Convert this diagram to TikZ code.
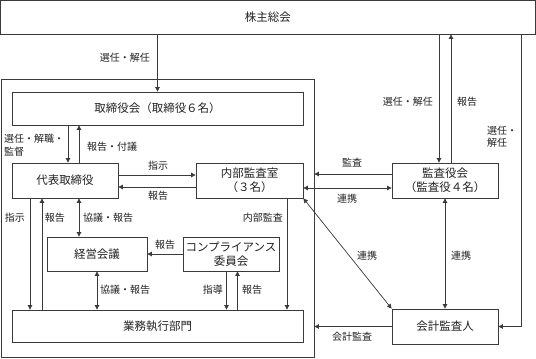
\documentclass[tikz,border=0pt]{standalone}
\usepackage{fontspec}
\setmainfont{Noto Sans CJK JP}
\usetikzlibrary{arrows.meta,calc}
\definecolor{lineC}{HTML}{3A3A3A}
\definecolor{textC}{HTML}{222222}
\begin{document}
\begin{tikzpicture}[x=1pt,y=-1pt,
  box/.style={draw=lineC, line width=0.8pt, fill=white, inner sep=0pt, align=center,
              text=textC, font=\fontsize{11.5}{14}\selectfont},
  conn/.style={draw=lineC, line width=0.7pt},
  arr/.style={conn, -{Triangle[length=4.5pt,width=4.5pt]}},
  darr/.style={conn, {Triangle[length=4.5pt,width=4.5pt]}-{Triangle[length=4.5pt,width=4.5pt]}},
  lbl/.style={font=\fontsize{10}{12.5}\selectfont, inner sep=1pt, text=textC, align=left}]
\useasboundingbox (0,0) rectangle (536,359);

% frame
\node[draw=lineC, line width=0.8pt, minimum width=312.5pt, minimum height=278.5pt, inner sep=0pt] (frame) at (157.75,218.25) {};

% boxes
\node[box, minimum width=534.5pt, minimum height=33.5pt] (top) at (267.75,17.25) {株主総会};
\node[box, minimum width=291pt, minimum height=33pt] (board) at (157.5,108.5) {取締役会（取締役６名）};
\node[box, minimum width=106pt, minimum height=35pt] (ceo) at (65,180.5) {代表取締役};
\node[box, minimum width=107pt, minimum height=35pt] (audit) at (249.5,180.5) {内部監査室\\（３名）};
\node[box, minimum width=100pt, minimum height=34pt] (mgmt) at (97,254) {経営会議};
\node[box, minimum width=96pt, minimum height=34pt] (comp) at (231,254) {コンプライアンス\\委員会};
\node[box, minimum width=291pt, minimum height=32pt] (ops) at (157.5,326) {業務執行部門};
\node[box, minimum width=106pt, minimum height=35pt] (kansa) at (445,180.5) {監査役会\\（監査役４名）};
\node[box, minimum width=106pt, minimum height=35pt] (auditor) at (445,326.5) {会計監査人};

% helper coordinates
\coordinate (k1) at ($(kansa.north)+(-6,0)$);
\coordinate (k2) at ($(kansa.north)+(6,0)$);
\coordinate (r1) at (521,0);
\coordinate (c1) at ($(ceo.north)+(3,0)$);
\coordinate (c2) at ($(ceo.north)+(14,0)$);
\coordinate (h1) at ($(ceo.east)+(0,-5.5)$);
\coordinate (h2) at ($(audit.west)+(0,6.5)$);
\coordinate (c3) at ($(ceo.south)+(-35,0)$);
\coordinate (c4) at ($(ceo.south)+(-23,0)$);
\coordinate (c5) at ($(ceo.south)+(14,0)$);
\coordinate (p1) at ($(comp.south)+(-4.5,0)$);
\coordinate (p2) at ($(comp.south)+(6.5,0)$);
\coordinate (a1) at ($(audit.south)+(37.5,0)$);
\coordinate (k3) at ($(kansa.west)+(0,-6.5)$);
\coordinate (a2) at ($(audit.east)+(0,7.5)$);

% connectors
\draw[arr] (top.south -| board.north) -- (board.north);
\draw[arr] (top.south -| k1) -- (k1);
\draw[arr] (k2) -- (top.south -| k2);
\draw[arr] (top.south -| r1) |- (auditor.east);
\draw[arr] (board.south -| c1) -- (c1);
\draw[arr] (c2) -- (board.south -| c2);
\draw[arr] (h1) -- (h1 -| audit.west);
\draw[arr] (h2) -- (h2 -| ceo.east);
\draw[arr] (c3) -- (c3 |- ops.north);
\draw[arr] (c4 |- ops.north) -- (c4);
\draw[darr] (c5) -- (c5 |- mgmt.north);
\draw[arr] (comp.west) -- (mgmt.east);
\draw[darr] (mgmt.south) -- (mgmt.south |- ops.north);
\draw[arr] (p1) -- (p1 |- ops.north);
\draw[arr] (p2 |- ops.north) -- (p2);
\draw[arr] (a1) -- (a1 |- ops.north);
\draw[arr] (k3) -- (k3 -| frame.east);
\draw[darr] (a2) -- (a2 -| kansa.west);
\draw[darr] (audit.south east) -- (auditor.north west);
\draw[darr] (kansa.south) -- (auditor.north);
\draw[arr] (auditor.west) -- (auditor.west -| frame.east);

% labels
\node[lbl, anchor=east] (l1) at (151,58) {選任・解任};
\node[lbl, anchor=east] (l2) at (434,102) {選任・解任};
\node[lbl, anchor=west] (l3) at (456,102) {報告};
\node[lbl, anchor=west] (l4) at (486,136.5) {選任・\\解任};
\node[lbl, anchor=west] (l5) at (3,145) {選任・解職・\\監督};
\node[lbl, anchor=west] (l6) at (86,147) {報告・付議};
\node[lbl] (l7) at (158,166) {指示};
\node[lbl] (l8) at (158,196) {報告};
\node[lbl] (l9) at (15,218) {指示};
\node[lbl] (l10) at (55,218) {報告};
\node[lbl, anchor=west] (l11) at (82,218) {協議・報告};
\node[lbl, anchor=east] (l12) at (284,218) {内部監査};
\node[lbl] (l13) at (165,245) {報告};
\node[lbl, anchor=west] (l14) at (99,290) {協議・報告};
\node[lbl, anchor=east] (l15) at (224,290) {指導};
\node[lbl, anchor=west] (l16) at (241,290) {報告};
\node[lbl] (l17) at (352,163) {監査};
\node[lbl] (l18) at (347,199) {連携};
\node[lbl] (l19) at (367,256) {連携};
\node[lbl] (l20) at (461,256) {連携};
\node[lbl] (l21) at (352,337) {会計監査};
\end{tikzpicture}
\end{document}
